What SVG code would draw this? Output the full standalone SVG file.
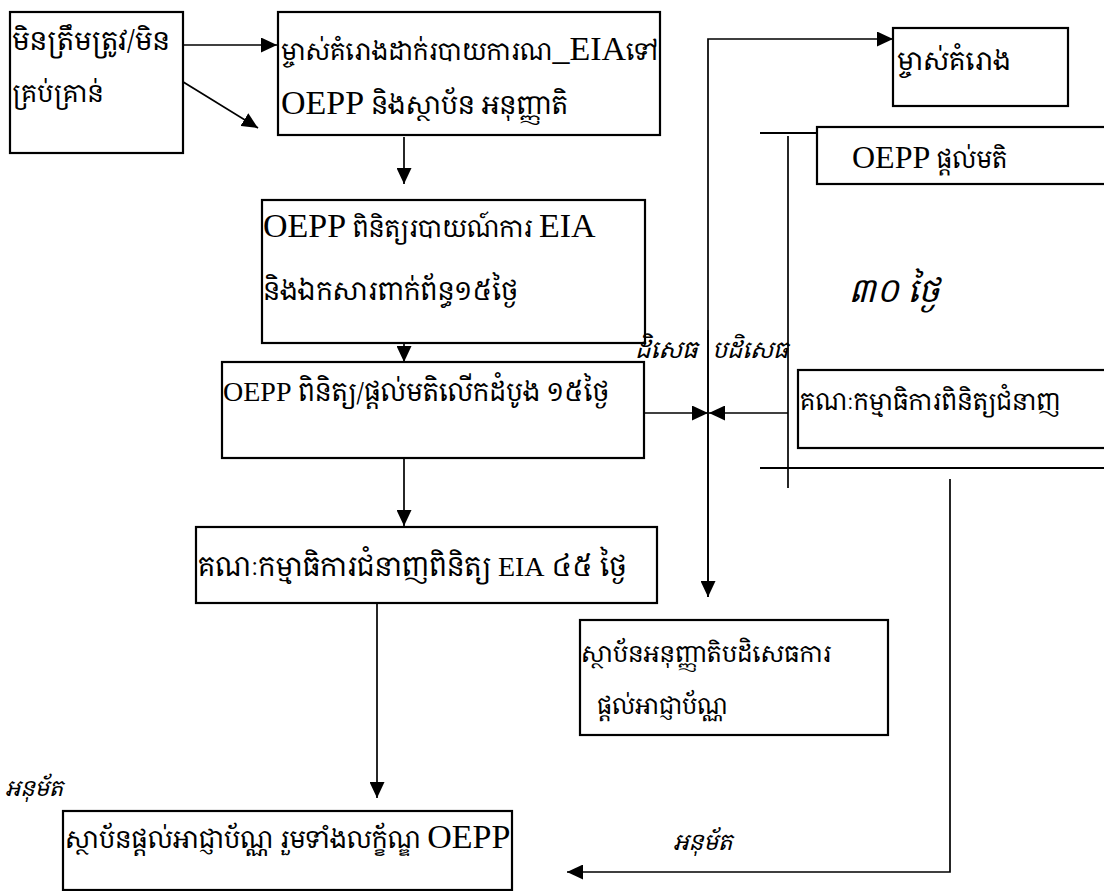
<svg xmlns="http://www.w3.org/2000/svg" width="1104" height="891" viewBox="0 0 1104 891">
  <style>
    .box { fill: #ffffff; stroke: #000000; stroke-width: 2.2; }
    .ln { fill: none; stroke: #000000; stroke-width: 1.7; }
    .rule { fill: none; stroke: #000000; stroke-width: 2; }
    .t { font-family: "Noto Serif Khmer", "Noto Sans Khmer", "Khmer OS", "Liberation Serif", serif; font-size: 26px; fill: #000000; }
    .lat { font-family: "Liberation Serif", "Times New Roman", serif; font-size: 34px; }
    .lat-s { font-family: "Liberation Serif", "Times New Roman", serif; font-size: 28px; }
    .it { font-style: italic; }
  </style>
  <defs>
    <marker id="head" viewBox="0 0 16 15" refX="16" refY="7.5" markerWidth="16" markerHeight="15" markerUnits="userSpaceOnUse" orient="auto">
      <path d="M0,0 L16,7.5 L0,15 z" fill="#000000"/>
    </marker>
  </defs>

  <rect width="1104" height="891" fill="#ffffff"/>

  <!-- connectors -->
  <g id="connectors">
    <line class="ln" x1="180" y1="45" x2="277" y2="45" marker-end="url(#head)"/>
    <line class="ln" x1="180" y1="80" x2="258" y2="128" marker-end="url(#head)"/>
    <line class="ln" x1="404" y1="137" x2="404" y2="184" marker-end="url(#head)"/>
    <line class="ln" x1="404" y1="343" x2="404" y2="362" marker-end="url(#head)"/>
    <line class="ln" x1="404" y1="447" x2="404" y2="526" marker-end="url(#head)"/>
    <line class="ln" x1="377" y1="603" x2="377" y2="798" marker-end="url(#head)"/>
    <polyline class="ln" points="708,597 708,39 893,39" marker-end="url(#head)"/>
    <line class="ln" x1="708" y1="330" x2="708" y2="597" marker-end="url(#head)"/>
    <line class="ln" x1="644" y1="413" x2="708" y2="413" marker-end="url(#head)"/>
    <line class="ln" x1="788" y1="413" x2="709" y2="413" marker-end="url(#head)"/>
    <line class="ln" x1="788" y1="136" x2="788" y2="488"/>
    <line class="rule" x1="760" y1="133" x2="1104" y2="133"/>
    <line class="rule" x1="760" y1="468" x2="1104" y2="468"/>
    <polyline class="ln" points="950,479 950,872 567,872" marker-end="url(#head)"/>
  </g>

  <!-- nodes -->
  <g id="node-incorrect">
    <rect class="box" x="10" y="12" width="173" height="141"/>
    <text class="t" x="12" y="50" style="font-size:26.8px">មិនត្រឹមត្រូវ/មិន</text>
    <text class="t" x="12" y="102" style="font-size:25px">គ្រប់គ្រាន់</text>
  </g>

  <g id="node-submit">
    <rect class="box" x="278" y="12" width="382" height="123"/>
    <text class="t" x="281" y="60" style="font-size:24.5px">ម្ចាស់គំរោងដាក់របាយការណ<tspan class="lat">_EIA</tspan>ទៅ</text>
    <text class="t" x="281" y="114"><tspan class="lat">OEPP</tspan> និងស្ថាប័ន អនុញ្ញាតិ</text>
  </g>

  <g id="node-owner">
    <rect class="box" x="893" y="28" width="175" height="78"/>
    <text class="t" x="897" y="70">ម្ចាស់គំរោង</text>
  </g>

  <g id="node-oepp-opinion">
    <rect class="box" x="817" y="127" width="300" height="57"/>
    <text class="t" x="852" y="168" style="font-size:24px"><tspan class="lat" style="font-size:32px">OEPP</tspan> ផ្តល់មតិ</text>
  </g>

  <g id="node-review-report">
    <rect class="box" x="262" y="200" width="383" height="143"/>
    <text class="t" x="263" y="237" style="font-size:24.5px"><tspan class="lat">OEPP</tspan> ពិនិត្យរបាយណ៍ការ <tspan class="lat">EIA</tspan></text>
    <text class="t" x="263" y="300">និងឯកសារពាក់ព័ន្ធ១៥ថ្ងៃ</text>
  </g>

  <g id="node-first-review">
    <rect class="box" x="222" y="362" width="422" height="96"/>
    <text class="t" x="223" y="401" style="font-size:25.5px"><tspan class="lat-s">OEPP</tspan> ពិនិត្យ/ផ្តល់មតិលើកដំបូង ១៥ថ្ងៃ</text>
  </g>

  <g id="node-expert-review">
    <rect class="box" x="798" y="370" width="320" height="78"/>
    <text class="t" x="800" y="410" style="font-size:24px">គណៈកម្មាធិការពិនិត្យជំនាញ</text>
  </g>

  <g id="node-committee-45">
    <rect class="box" x="196" y="527" width="461" height="76"/>
    <text class="t" x="198" y="576" style="font-size:27px">គណៈកម្មាធិការជំនាញពិនិត្យ <tspan class="lat-s">EIA</tspan> ៤៥ ថ្ងៃ</text>
  </g>

  <g id="node-refuse">
    <rect class="box" x="580" y="620" width="308" height="115"/>
    <text class="t" x="581" y="662" style="font-size:23.5px">ស្ថាប័នអនុញ្ញាតិបដិសេធការ</text>
    <text class="t" x="597" y="714" style="font-size:23px">ផ្តល់អាជ្ញាប័ណ្ណ</text>
  </g>

  <g id="node-grant">
    <rect class="box" x="63" y="811" width="449" height="79"/>
    <text class="t" x="65" y="848" style="font-size:25px">ស្ថាប័នផ្តល់អាជ្ញាប័ណ្ណ រួមទាំងលក្ខ័ណ្ឌ <tspan class="lat">OEPP</tspan></text>
  </g>

  <!-- edge labels -->
  <g id="labels">
    <text class="t it" x="848" y="302" style="font-size:32px">៣០ ថ្ងៃ</text>
    <text class="t it" x="635" y="358" style="font-size:23.5px">ដិសេធ</text>
    <text class="t it" x="712" y="358" style="font-size:23px">បដិសេធ</text>
    <text class="t it" x="5" y="796" style="font-size:22px">អនុម័ត</text>
    <text class="t it" x="673" y="850" style="font-size:22.5px">អនុម័ត</text>
  </g>
</svg>
